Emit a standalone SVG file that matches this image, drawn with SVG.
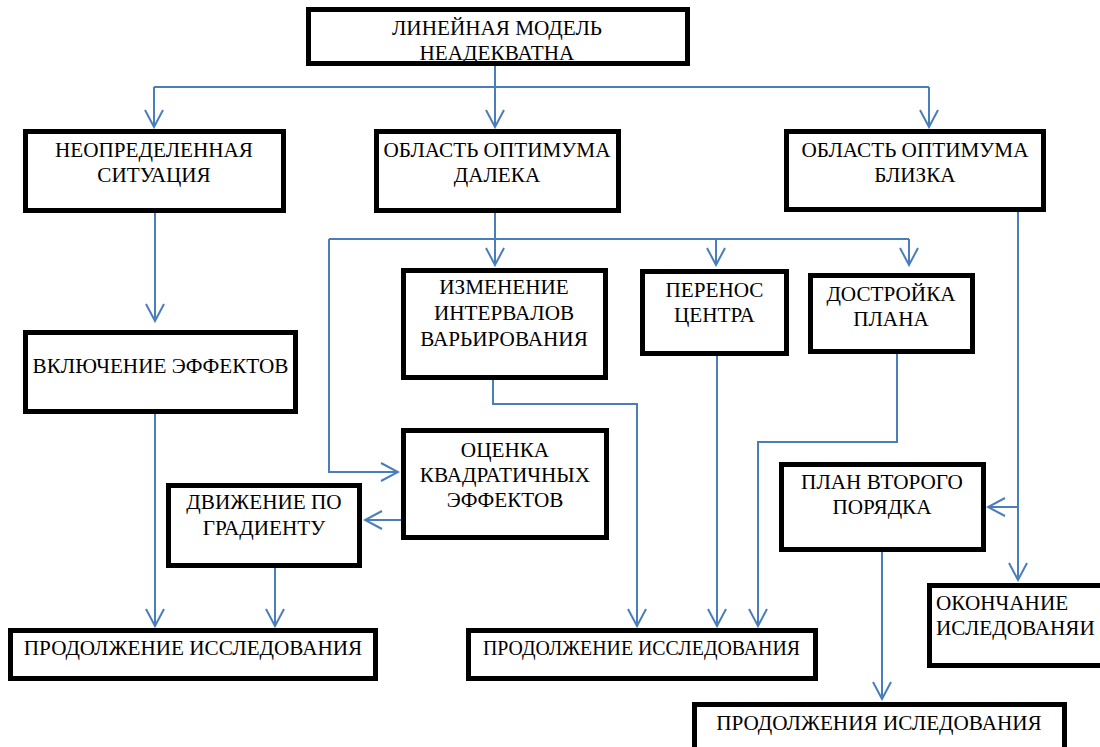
<svg xmlns="http://www.w3.org/2000/svg" width="1100" height="747" viewBox="0 0 1100 747">
  <style>
    .box { fill: #ffffff; stroke: #000000; stroke-width: 5; }
    .lbl { font-family: "Liberation Serif", "Times New Roman", serif; font-size: 21.2px; fill: #000000; text-anchor: middle; }
    .lbl-left { text-anchor: start; }
    .conn { fill: none; stroke: #4a7ebb; stroke-width: 2; }
    .arr { marker-end: url(#arrow); }
  </style>
  <defs>
    <marker id="arrow" markerUnits="userSpaceOnUse" viewBox="-19 -11 21 22" refX="0" refY="0" markerWidth="21" markerHeight="22" orient="auto">
      <path d="M-17,-9 L0,0 L-17,9" fill="none" stroke="#4a7ebb" stroke-width="2"/>
    </marker>
  </defs>

  <!-- connectors -->
  <g id="connectors">
    <path class="conn" d="M495,66 V87 M154,87 H929"/>
    <path class="conn arr" d="M154,87 V127"/>
    <path class="conn arr" d="M495,87 V127"/>
    <path class="conn arr" d="M929,87 V127"/>

    <path class="conn arr" d="M155,213 V321"/>

    <path class="conn" d="M495,213 V239 M329,239 H909"/>
    <path class="conn arr" d="M495,239 V265"/>
    <path class="conn arr" d="M716,239 V265"/>
    <path class="conn arr" d="M909,239 V265"/>
    <path class="conn arr" d="M329,239 V472 H398"/>

    <path class="conn arr" d="M493,380 V404 H637 V626"/>
    <path class="conn arr" d="M717,356 V626"/>
    <path class="conn arr" d="M897,354 V442 H758 V626"/>

    <path class="conn arr" d="M1018,212 V580"/>
    <path class="conn arr" d="M1018,507 H988"/>

    <path class="conn arr" d="M155,414 V626"/>
    <path class="conn arr" d="M401,520 H365"/>
    <path class="conn arr" d="M275,568 V626"/>
    <path class="conn arr" d="M882,552 V699"/>
  </g>

  <g id="node-linear-model">
    <rect class="box" x="308.5" y="9.5" width="379" height="54"/>
    <text class="lbl" x="497" y="35">ЛИНЕЙНАЯ МОДЕЛЬ</text>
    <text class="lbl" x="497" y="60">НЕАДЕКВАТНА</text>
  </g>

  <g id="node-uncertain">
    <rect class="box" x="25.5" y="131.5" width="258" height="79"/>
    <text class="lbl" x="154" y="157">НЕОПРЕДЕЛЕННАЯ</text>
    <text class="lbl" x="154" y="182">СИТУАЦИЯ</text>
  </g>

  <g id="node-optimum-far">
    <rect class="box" x="376.5" y="131.5" width="242" height="79"/>
    <text class="lbl" x="497" y="157">ОБЛАСТЬ ОПТИМУМА</text>
    <text class="lbl" x="497" y="182">ДАЛЕКА</text>
  </g>

  <g id="node-optimum-near">
    <rect class="box" x="786.5" y="131.5" width="257" height="78"/>
    <text class="lbl" x="915" y="157">ОБЛАСТЬ ОПТИМУМА</text>
    <text class="lbl" x="915" y="182">БЛИЗКА</text>
  </g>

  <g id="node-intervals">
    <rect class="box" x="403.5" y="270.5" width="202" height="107"/>
    <text class="lbl" x="504" y="294">ИЗМЕНЕНИЕ</text>
    <text class="lbl" x="504" y="320">ИНТЕРВАЛОВ</text>
    <text class="lbl" x="504" y="346">ВАРЬИРОВАНИЯ</text>
  </g>

  <g id="node-center-shift">
    <rect class="box" x="642.5" y="271.5" width="144" height="82"/>
    <text class="lbl" x="714.5" y="297">ПЕРЕНОС</text>
    <text class="lbl" x="714.5" y="322">ЦЕНТРА</text>
  </g>

  <g id="node-plan-extension">
    <rect class="box" x="810.5" y="275.5" width="162" height="76"/>
    <text class="lbl" x="891" y="301">ДОСТРОЙКА</text>
    <text class="lbl" x="891" y="326">ПЛАНА</text>
  </g>

  <g id="node-effects">
    <rect class="box" x="25.5" y="332.5" width="270" height="79"/>
    <text class="lbl" x="160.5" y="373">ВКЛЮЧЕНИЕ ЭФФЕКТОВ</text>
  </g>

  <g id="node-quadratic">
    <rect class="box" x="403.5" y="430.5" width="203" height="107"/>
    <text class="lbl" x="505" y="457">ОЦЕНКА</text>
    <text class="lbl" x="505" y="482">КВАДРАТИЧНЫХ</text>
    <text class="lbl" x="505" y="507">ЭФФЕКТОВ</text>
  </g>

  <g id="node-gradient">
    <rect class="box" x="168.5" y="485.5" width="191" height="80"/>
    <text class="lbl" x="264" y="509">ДВИЖЕНИЕ ПО</text>
    <text class="lbl" x="264" y="535">ГРАДИЕНТУ</text>
  </g>

  <g id="node-second-order">
    <rect class="box" x="781.5" y="464.5" width="202" height="85"/>
    <text class="lbl" x="882" y="489">ПЛАН ВТОРОГО</text>
    <text class="lbl" x="882" y="514">ПОРЯДКА</text>
  </g>

  <g id="node-continue-left">
    <rect class="box" x="10.5" y="630.5" width="365" height="48"/>
    <text class="lbl" x="193" y="655">ПРОДОЛЖЕНИЕ ИССЛЕДОВАНИЯ</text>
  </g>

  <g id="node-continue-middle">
    <rect class="box" x="468.5" y="630.5" width="347" height="48"/>
    <text class="lbl" x="641.5" y="655" textLength="317" lengthAdjust="spacingAndGlyphs">ПРОДОЛЖЕНИЕ ИССЛЕДОВАНИЯ</text>
  </g>

  <g id="node-end">
    <rect class="box" x="929.5" y="585.5" width="175" height="80"/>
    <text class="lbl lbl-left" x="936" y="610">ОКОНЧАНИЕ</text>
    <text class="lbl lbl-left" x="936" y="635">ИСЛЕДОВАНЯИ</text>
  </g>

  <g id="node-continue-bottom">
    <rect class="box" x="694.5" y="704.5" width="370" height="50"/>
    <text class="lbl" x="879" y="730">ПРОДОЛЖЕНИЯ ИСЛЕДОВАНИЯ</text>
  </g>
</svg>
